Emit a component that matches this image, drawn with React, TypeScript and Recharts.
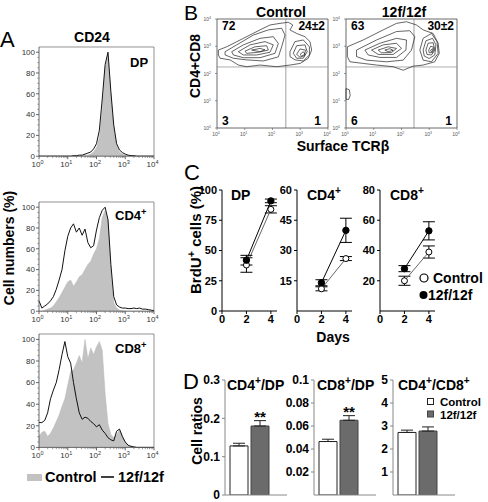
import React from 'react';
import {
  ComposedChart, Area, Line, XAxis, YAxis, ScatterChart, Scatter,
  BarChart, Bar, ErrorBar, LabelList, ReferenceLine,
} from 'recharts';

const FONT = '"Liberation Sans", Arial, Helvetica, sans-serif';

// ---------- Panel A: CD24 histograms (x = log10 intensity, y = % of max)
const histX = [
  0, 0.1, 0.2, 0.3, 0.4, 0.5, 0.6, 0.7, 0.8, 0.9,
  1, 1.1, 1.2, 1.3, 1.4, 1.5, 1.6, 1.7, 1.8, 1.9,
  2, 2.1, 2.2, 2.3, 2.4, 2.5, 2.6, 2.7, 2.8, 2.9,
  3, 3.1, 3.2, 3.3, 3.4, 3.5, 3.6, 3.7, 3.8, 3.9, 4,
];
const cd24DpControl = [
  0, 0, 0, 0, 0, 0, 0, 0, 0, 0,
  0, 0, 0, 0, 0, 0.5, 1, 1, 2, 4,
  8, 18, 45, 85, 97, 60, 27, 10, 4, 2,
  1, 0.5, 0, 0, 0, 0, 0, 0, 0, 0, 0,
];
const cd24DpMutant = [
  0, 0, 0, 0, 0, 0, 0, 0, 0, 0,
  0, 0, 0.5, 0.5, 1, 1, 2, 3, 4, 7,
  12, 25, 55, 88, 100, 62, 30, 12, 6, 3.5,
  2, 1, 0.5, 0.5, 0, 0, 0, 0, 0, 0, 0,
];
const cd24Cd4Control = [
  0, 0, 1, 2, 3, 5, 9, 13, 18, 23,
  28, 30, 24, 28, 33, 35, 40, 45, 48, 55,
  60, 70, 90, 97, 88, 40, 8, 3, 1, 0.5,
  0, 0, 0, 0, 0, 0, 0, 0, 0, 0, 0,
];
const cd24Cd4Mutant = [
  10, 3, 5, 7, 10, 14, 21, 30, 40, 58,
  72, 80, 84, 76, 80, 73, 79, 66, 61, 63,
  78, 90, 97, 100, 88, 45, 14, 6, 4, 3,
  3, 2.5, 2.5, 3, 2.5, 3, 2, 2, 1.5, 1, 0.5,
];
const cd24Cd8Control = [
  10, 14, 15, 10, 13, 18, 24, 30, 38, 45,
  58, 70, 72, 78, 85, 78, 100, 82, 92, 86,
  93, 98, 90, 50, 22, 12, 9, 12, 16, 11,
  5, 2, 1, 0, 0, 0, 0, 0, 0, 0, 0,
];
const cd24Cd8Mutant = [
  23, 23, 25, 32, 45, 53, 60, 72, 86, 98,
  84, 78, 60, 45, 32, 26, 28, 27, 24, 22,
  19, 21, 16, 13, 9, 7, 6, 15, 17, 10,
  5, 2, 1, 0.5, 0, 0, 0, 0, 0, 0, 0,
];
const decades = [0, 1, 2, 3, 4];
const minorSteps = [2, 3, 4, 5, 6, 7, 8, 9];

// ---------- Panel B: CD4+CD8 vs surface TCRb contours (log10 units)
const quadControl = ['72', '24±2', '3', '1'];
const quadMutant = ['63', '30±2', '6', '1'];
const controlContours = [
  [[0.05, 2.86], [0.35, 2.98], [0.95, 3.29], [1.55, 3.6], [1.91, 3.78], [2.27, 3.84], [2.57, 3.88], [2.73, 3.78], [2.63, 3.6], [2.87, 3.47], [3.17, 3.35], [3.35, 3.17], [3.41, 2.86], [3.29, 2.56], [3.0, 2.37], [2.63, 2.31], [2.15, 2.25], [1.55, 2.31], [1.07, 2.25], [0.77, 2.31], [0.47, 2.5], [0.11, 2.56], [0.05, 2.68]],
  [[0.29, 2.8], [0.71, 3.05], [1.31, 3.41], [1.85, 3.6], [2.33, 3.66], [2.45, 3.41], [2.33, 2.98], [2.21, 2.61], [1.67, 2.46], [1.07, 2.5], [0.59, 2.56], [0.29, 2.68]],
  [[0.53, 2.8], [0.95, 3.05], [1.55, 3.29], [2.03, 3.35], [2.21, 3.1], [2.09, 2.74], [1.55, 2.58], [0.95, 2.58], [0.59, 2.68]],
  [[0.77, 2.8], [1.19, 3.05], [1.73, 3.17], [2.03, 3.05], [1.91, 2.78], [1.43, 2.68], [0.95, 2.68]],
  [[1.01, 2.82], [1.37, 2.98], [1.79, 3.02], [1.85, 2.86], [1.49, 2.78], [1.07, 2.74]],
  [[1.25, 2.86], [1.55, 2.92], [1.73, 2.87], [1.55, 2.8]],
  [[2.63, 2.8], [2.81, 3.17], [3.11, 3.23], [3.33, 2.98], [3.33, 2.68], [3.11, 2.46], [2.81, 2.5], [2.63, 2.62]],
  [[2.75, 2.74], [2.87, 3.02], [3.17, 3.05], [3.25, 2.8], [3.11, 2.56], [2.87, 2.56]],
  [[2.87, 2.7], [2.99, 2.9], [3.19, 2.86], [3.15, 2.65], [2.99, 2.6]],
  [[2.99, 2.7], [3.11, 2.8], [3.17, 2.71], [3.05, 2.64]],
];
const mutantContours = [
  [[0.05, 2.98], [0.62, 3.23], [1.34, 3.6], [1.82, 3.84], [2.18, 3.9], [2.54, 3.78], [2.78, 3.6], [3.14, 3.47], [3.32, 3.11], [3.36, 2.74], [3.2, 2.43], [2.78, 2.31], [2.42, 2.27], [2.06, 2.12], [1.7, 2.25], [1.1, 2.31], [0.62, 2.37], [0.14, 2.43], [0.05, 2.62]],
  [[0.38, 2.86], [1.1, 3.23], [1.82, 3.54], [2.3, 3.57], [2.48, 3.35], [2.36, 2.86], [2.06, 2.49], [1.46, 2.43], [0.74, 2.49], [0.38, 2.62]],
  [[0.68, 2.86], [1.22, 3.11], [1.82, 3.29], [2.18, 3.23], [2.16, 2.86], [1.82, 2.59], [1.22, 2.59], [0.8, 2.68]],
  [[0.92, 2.86], [1.34, 3.05], [1.82, 3.11], [2.0, 2.92], [1.7, 2.7], [1.16, 2.7]],
  [[1.16, 2.86], [1.52, 2.98], [1.82, 2.92], [1.64, 2.77], [1.28, 2.76]],
  [[1.4, 2.86], [1.58, 2.91], [1.7, 2.85], [1.52, 2.8]],
  [[2.66, 2.86], [2.78, 3.29], [3.08, 3.47], [3.28, 3.17], [3.32, 2.74], [3.08, 2.43], [2.78, 2.49]],
  [[2.78, 2.86], [2.88, 3.2], [3.12, 3.29], [3.24, 3.05], [3.2, 2.68], [3.0, 2.55], [2.82, 2.64]],
  [[2.88, 2.86], [2.96, 3.11], [3.14, 3.13], [3.2, 2.86], [3.08, 2.68], [2.92, 2.7]],
  [[2.98, 2.86], [3.05, 3.0], [3.17, 2.96], [3.12, 2.77], [3.0, 2.76]],
  [[3.05, 2.86], [3.12, 2.91], [3.14, 2.84], [3.07, 2.8]],
  [[0.0, 1.45], [0.12, 1.4], [0.15, 1.2], [0.1, 1.05], [0.0, 1.05]],
];

// ---------- Panel C: BrdU+ cells (%)
const days = [2, 4];
const dayTicks = [0, 2, 4];
const brduDpControl = [38, 84];
const brduDpControlErr = [6, 3];
const brduDpMutant = [42, 91];
const brduDpMutantErr = [4, 1.5];
const brduCd4Control = [11, 26];
const brduCd4ControlErr = [1, 1];
const brduCd4Mutant = [14, 40];
const brduCd4MutantErr = [1.5, 6];
const brduCd8Control = [20, 39];
const brduCd8ControlErr = [3, 4];
const brduCd8Mutant = [28, 53];
const brduCd8MutantErr = [2, 6];

// ---------- Panel D: cell ratios
const ratioControl = [0.128, 0.0465, 2.72];
const ratioControlErr = [0.007, 0.002, 0.1];
const ratioMutant = [0.18, 0.065, 2.78];
const ratioMutantErr = [0.014, 0.004, 0.18];
const ratioSig = ['**', '**', ''];

function LogTick(props: any) {
  const { x, y, payload } = props;
  const v = payload.value;
  const major = Math.abs(v - Math.round(v)) < 1e-6;
  if (!major) return <line x1={x} x2={x} y1={y} y2={y + 1.8} stroke="#555" strokeWidth={0.6} />;
  return (
    <g>
      <line x1={x} x2={x} y1={y} y2={y + 3} stroke="#444" strokeWidth={0.8} />
      <text x={x - 1.5} y={y + 11} textAnchor="middle" fontSize={8} fill="#333" fontFamily={FONT}>
        10<tspan dy={-3.5} fontSize={5.5}>{Math.round(v)}</tspan>
      </text>
    </g>
  );
}

function PctTick(props: any) {
  const { x, y, payload } = props;
  const v = payload.value;
  if (v % 20 !== 0) return <line x1={x} x2={x - 1.6} y1={y} y2={y} stroke="#555" strokeWidth={0.6} />;
  return (
    <g>
      <line x1={x} x2={x - 3} y1={y} y2={y} stroke="#444" strokeWidth={0.8} />
      <text x={x - 4} y={y + 2.8} textAnchor="end" fontSize={8} fill="#333" fontFamily={FONT}>{v}</text>
    </g>
  );
}

function TinyTick(props: any) {
  const { x, y, payload, side } = props;
  const v = payload.value;
  if (side === 'x') {
    return (
      <g>
        <line x1={x} x2={x} y1={y} y2={y + 2} stroke="#555" strokeWidth={0.6} />
        <text x={x - 1} y={y + 8} textAnchor="middle" fontSize={5} fill="#555" fontFamily={FONT}>
          10<tspan dy={-2} fontSize={3.5}>{v}</tspan>
        </text>
      </g>
    );
  }
  return (
    <g>
      <line x1={x} x2={x - 2} y1={y} y2={y} stroke="#555" strokeWidth={0.6} />
      <text x={x - 6} y={y + 2} textAnchor="end" fontSize={5} fill="#555" fontFamily={FONT}>
        10<tspan dy={-2} fontSize={3.5}>{v}</tspan>
      </text>
    </g>
  );
}

function Histogram({ y100, y0, control, mutant }: { y100: number; y0: number; control: number[]; mutant: number[] }) {
  const per = (y0 - y100) / 100;
  const plotH = 105 * per;
  const yW = 30;
  const top = 5;
  const right = 8;
  const xH = 14;
  const data = histX.map((x, i) => ({ x, ctrl: control[i], mut: mutant[i] }));
  const xTicks: number[] = [];
  decades.forEach((d) => {
    xTicks.push(d);
    if (d < 4) minorSteps.forEach((k) => xTicks.push(d + Math.log10(k)));
  });
  const yTicks: number[] = [];
  for (let v = 0; v <= 100; v += 5) yTicks.push(v);
  return (
    <div style={{ position: 'absolute', left: 39 - yW, top: y0 - plotH - top }}>
      <ComposedChart width={yW + 115 + right} height={top + plotH + xH} data={data} margin={{ top, right, bottom: 0, left: 0 }}>
        <XAxis dataKey="x" type="number" domain={[0, 4]} ticks={xTicks} interval={0} tick={<LogTick />} tickSize={0} tickMargin={0} tickLine={false} height={xH} axisLine={{ stroke: '#444', strokeWidth: 0.8 }} allowDataOverflow />
        <YAxis type="number" domain={[0, 105]} ticks={yTicks} interval={0} tick={<PctTick />} tickSize={0} tickMargin={0} tickLine={false} width={yW} axisLine={{ stroke: '#444', strokeWidth: 0.8 }} allowDataOverflow />
        <ReferenceLine y={105} stroke="#777" strokeWidth={0.8} />
        <ReferenceLine x={4} stroke="#777" strokeWidth={0.8} />
        <Area dataKey="ctrl" type="linear" stroke="#b8b8b8" strokeWidth={0.5} fill="#c2c2c2" fillOpacity={1} dot={false} activeDot={false} isAnimationActive={false} />
        <Line dataKey="mut" type="linear" stroke="#111" strokeWidth={1} dot={false} activeDot={false} isAnimationActive={false} />
      </ComposedChart>
    </div>
  );
}

const noShape = () => <g />;

function ContourPlot({ left, contours, gateX, gateY }: { left: number; contours: number[][][]; gateX: number; gateY: number }) {
  const yW = 20;
  const top = 5;
  const right = 7;
  return (
    <div style={{ position: 'absolute', left: left - yW, top: 19 - top }}>
      <ScatterChart width={yW + 111 + right} height={top + 109 + 12} margin={{ top, right, bottom: 0, left: 0 }}>
        <XAxis type="number" dataKey="x" domain={[0, 4]} ticks={decades} interval={0} tick={<TinyTick side="x" />} tickSize={0} tickMargin={0} tickLine={false} height={12} axisLine={{ stroke: '#444', strokeWidth: 0.8 }} />
        <YAxis type="number" dataKey="y" domain={[0, 4]} ticks={decades} interval={0} tick={<TinyTick side="y" />} tickSize={0} tickMargin={0} tickLine={false} width={yW} axisLine={{ stroke: '#444', strokeWidth: 0.8 }} />
        <ReferenceLine x={4} stroke="#444" strokeWidth={0.8} />
        <ReferenceLine y={4} stroke="#444" strokeWidth={0.8} />
        <ReferenceLine x={gateX} stroke="#888" strokeWidth={0.8} />
        <ReferenceLine y={gateY} stroke="#999" strokeWidth={0.8} />
        {contours.map((c, i) => (
          <Scatter
            key={i}
            data={[...c, c[0]].map(([x, y]) => ({ x, y }))}
            line={{ stroke: '#222', strokeWidth: 0.7 }}
            shape={noShape}
            isAnimationActive={false}
          />
        ))}
      </ScatterChart>
    </div>
  );
}

const cTick = { fontSize: 11, fontWeight: 700, fill: '#000', fontFamily: FONT };

function KineticChart({ plotLeft, yMax, yTicks, ctrl, ctrlErr, mut, mutErr }: any) {
  const yW = 40;
  const top = 6;
  const data = days.map((d, i) => ({ day: d, ctrl: ctrl[i], ctrlE: ctrlErr[i], mut: mut[i], mutE: mutErr[i] }));
  return (
    <div style={{ position: 'absolute', left: plotLeft - yW, top: 190 - top }}>
      <ComposedChart width={yW + 55 + 6} height={top + 121 + 22} data={data} margin={{ top, right: 6, bottom: 0, left: 0 }}>
        <XAxis dataKey="day" type="number" domain={[0, 4.5]} ticks={dayTicks} interval={0} tick={cTick} tickSize={3} tickMargin={1} height={22} stroke="#000" allowDataOverflow />
        <YAxis type="number" domain={[0, yMax]} ticks={yTicks} interval={0} tick={cTick} tickSize={3} tickMargin={2} width={yW} stroke="#000" allowDataOverflow />
        <Line dataKey="ctrl" type="linear" stroke="#666" strokeWidth={1} dot={{ r: 3, fill: '#fff', stroke: '#000', strokeWidth: 1 }} activeDot={false} isAnimationActive={false}>
          <ErrorBar dataKey="ctrlE" width={6} stroke="#000" strokeWidth={1} direction="y" />
        </Line>
        <Line dataKey="mut" type="linear" stroke="#000" strokeWidth={1} dot={{ r: 3.2, fill: '#000', stroke: '#000', strokeWidth: 1 }} activeDot={false} isAnimationActive={false}>
          <ErrorBar dataKey="mutE" width={6} stroke="#000" strokeWidth={1} direction="y" />
        </Line>
      </ComposedChart>
    </div>
  );
}

const dTick = { fontSize: 12, fontWeight: 700, fill: '#000', fontFamily: FONT };

function RatioChart({ idx, plotLeft, yMax, yTicks }: { idx: number; plotLeft: number; yMax: number; yTicks: number[] }) {
  const yW = 40;
  const top = 6;
  const data = [{
    name: 'ratio',
    ctrl: ratioControl[idx],
    ctrlE: [0, ratioControlErr[idx]],
    mut: ratioMutant[idx],
    mutE: [0, ratioMutantErr[idx]],
    sig: ratioSig[idx],
  }];
  const sigMark = (p: any) => {
    const { x, y, width, height, value } = p;
    if (!value) return null;
    const errPx = (height / ratioMutant[idx]) * ratioMutantErr[idx];
    return (
      <text x={x + width / 2} y={y - errPx + 1} textAnchor="middle" fontSize={15} fontWeight={700} fontFamily={FONT} fill="#000">
        {value}
      </text>
    );
  };
  return (
    <div style={{ position: 'absolute', left: plotLeft - yW, top: 380 - top }}>
      <BarChart width={yW + 62 + 4} height={top + 115 + 2 + 6} data={data} margin={{ top, right: 4, bottom: 6, left: 0 }} barGap={3} barCategoryGap={0}>
        <XAxis dataKey="name" type="category" tick={false} tickLine={false} height={2} padding={{ left: 0, right: 13 }} stroke="#888" />
        <YAxis type="number" domain={[0, yMax]} ticks={yTicks} interval={0} tick={dTick} tickSize={3} tickMargin={2} width={yW} stroke="#888" allowDataOverflow />
        <Bar dataKey="ctrl" fill="#fff" stroke="#222" strokeWidth={1} barSize={18} isAnimationActive={false}>
          <ErrorBar dataKey="ctrlE" width={6} stroke="#222" strokeWidth={1} direction="y" />
        </Bar>
        <Bar dataKey="mut" fill="#6b6b6b" stroke="#444" strokeWidth={1} barSize={18} isAnimationActive={false}>
          <ErrorBar dataKey="mutE" width={6} stroke="#222" strokeWidth={1} direction="y" />
          <LabelList dataKey="sig" content={sigMark} />
        </Bar>
      </BarChart>
    </div>
  );
}

type Part = string | { sup: string };
const S = (s: string) => ({ sup: s });

function Txt({ x, y, size = 14, weight = 700, anchor = 'start', rot = false, parts }: {
  x: number; y: number; size?: number; weight?: number; anchor?: string; rot?: boolean; parts: Part[];
}) {
  const shift = size * 0.4;
  let up = false;
  const kids = parts.map((p, i) => {
    if (typeof p === 'string') {
      const el = <tspan key={i} dy={up ? shift : 0}>{p}</tspan>;
      up = false;
      return el;
    }
    const el = <tspan key={i} dy={up ? 0 : -shift} fontSize={size * 0.72}>{p.sup}</tspan>;
    up = true;
    return el;
  });
  return (
    <text
      x={rot ? 0 : x}
      y={rot ? 0 : y}
      transform={rot ? `translate(${x},${y}) rotate(-90)` : undefined}
      fontSize={size}
      fontWeight={weight}
      textAnchor={anchor as any}
      fontFamily={FONT}
      fill="#000"
    >
      {kids}
    </text>
  );
}

export default function App() {
  return (
    <div style={{ position: 'absolute', left: 0, top: 0, width: 488, height: 502, background: '#fff', overflow: 'hidden', fontFamily: FONT }}>
      <Histogram y100={52} y0={156} control={cd24DpControl} mutant={cd24DpMutant} />
      <Histogram y100={207} y0={311} control={cd24Cd4Control} mutant={cd24Cd4Mutant} />
      <Histogram y100={339} y0={447} control={cd24Cd8Control} mutant={cd24Cd8Mutant} />

      <ContourPlot left={217} contours={controlContours} gateX={2.48} gateY={2.24} />
      <ContourPlot left={346} contours={mutantContours} gateX={2.45} gateY={2.24} />

      <KineticChart plotLeft={222} yMax={100} yTicks={[0, 25, 50, 75, 100]} ctrl={brduDpControl} ctrlErr={brduDpControlErr} mut={brduDpMutant} mutErr={brduDpMutantErr} />
      <KineticChart plotLeft={297} yMax={60} yTicks={[15, 30, 45, 60]} ctrl={brduCd4Control} ctrlErr={brduCd4ControlErr} mut={brduCd4Mutant} mutErr={brduCd4MutantErr} />
      <KineticChart plotLeft={380} yMax={80} yTicks={[20, 40, 60, 80]} ctrl={brduCd8Control} ctrlErr={brduCd8ControlErr} mut={brduCd8Mutant} mutErr={brduCd8MutantErr} />

      <RatioChart idx={0} plotLeft={225} yMax={0.3} yTicks={[0, 0.1, 0.2, 0.3]} />
      <RatioChart idx={1} plotLeft={314} yMax={0.1} yTicks={[0.02, 0.04, 0.06, 0.08, 0.1]} />
      <RatioChart idx={2} plotLeft={393} yMax={5} yTicks={[1, 2, 3, 4, 5]} />

      <svg width={488} height={502} style={{ position: 'absolute', left: 0, top: 0, pointerEvents: 'none' }}>
        {/* Panel A */}
        <Txt x={0} y={47} size={22} weight={400} parts={['A']} />
        <Txt x={92} y={42} anchor="middle" parts={['CD24']} />
        <Txt x={130} y={67} size={13} parts={['DP']} />
        <Txt x={115} y={220} size={13} parts={['CD4', S('+')]} />
        <Txt x={115} y={353} size={13} parts={['CD8', S('+')]} />
        <Txt x={14} y={248} rot anchor="middle" parts={['Cell numbers (%)']} />
        <rect x={27} y={474} width={15} height={7} fill="#c2c2c2" />
        <Txt x={45} y={482} size={14.5} parts={['Control']} />
        <line x1={101} x2={114} y1={477} y2={477} stroke="#000" strokeWidth={1.5} />
        <Txt x={118} y={482} size={14.5} parts={['12f/12f']} />

        {/* Panel B */}
        <Txt x={184} y={20} size={21} weight={400} parts={['B']} />
        <Txt x={281} y={16.5} anchor="middle" parts={['Control']} />
        <Txt x={404} y={16.5} anchor="middle" parts={['12f/12f']} />
        <Txt x={222} y={30} size={12} parts={[quadControl[0]]} />
        <Txt x={325} y={30} size={12} anchor="end" parts={[quadControl[1]]} />
        <Txt x={222} y={125} size={12} parts={[quadControl[2]]} />
        <Txt x={321} y={125} size={12} anchor="end" parts={[quadControl[3]]} />
        <Txt x={351} y={30} size={12} parts={[quadMutant[0]]} />
        <Txt x={454} y={30} size={12} anchor="end" parts={[quadMutant[1]]} />
        <Txt x={351} y={125} size={12} parts={[quadMutant[2]]} />
        <Txt x={452} y={125} size={12} anchor="end" parts={[quadMutant[3]]} />
        <Txt x={343} y={151} anchor="middle" parts={['Surface TCRβ']} />
        <Txt x={200} y={66} rot anchor="middle" parts={['CD4+CD8']} />

        {/* Panel C */}
        <Txt x={184} y={180} size={22} weight={400} parts={['C']} />
        <Txt x={231} y={200} parts={['DP']} />
        <Txt x={307} y={200} parts={['CD4', S('+')]} />
        <Txt x={390} y={200} parts={['CD8', S('+')]} />
        <Txt x={201} y={240} rot anchor="middle" size={15} parts={['BrdU', S('+'), ' cells (%)']} />
        <circle cx={424} cy={278} r={4} fill="#fff" stroke="#000" strokeWidth={1.2} />
        <Txt x={433} y={283} parts={['Control']} />
        <circle cx={423.5} cy={295} r={4} fill="#000" />
        <Txt x={428} y={300} parts={['12f/12f']} />
        <Txt x={333} y={342} anchor="middle" parts={['Days']} />

        {/* Panel D */}
        <Txt x={183} y={389} size={22} weight={400} parts={['D']} />
        <Txt x={227} y={390} parts={['CD4', S('+'), '/DP']} />
        <Txt x={317} y={390} parts={['CD8', S('+'), '/DP']} />
        <Txt x={398} y={390} parts={['CD4', S('+'), '/CD8', S('+')]} />
        <Txt x={202} y={431} rot anchor="middle" parts={['Cell ratios']} />
        <rect x={427.5} y={398.5} width={6} height={6} fill="#fff" stroke="#222" strokeWidth={1} />
        <Txt x={440} y={406} size={11.5} parts={['Control']} />
        <rect x={427.5} y={411} width={6} height={6} fill="#6b6b6b" stroke="#444" strokeWidth={1} />
        <Txt x={440} y={418.5} size={11.5} parts={['12f/12f']} />
      </svg>
    </div>
  );
}
